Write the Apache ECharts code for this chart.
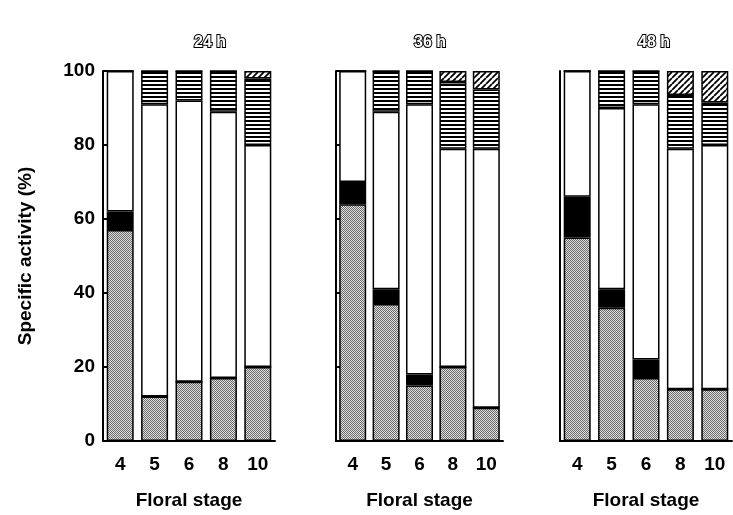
<!DOCTYPE html>
<html><head><meta charset="utf-8">
<script src="https://cdn.jsdelivr.net/npm/echarts@6/dist/echarts.min.js"></script>
<style>html,body{margin:0;padding:0;background:#fff}#c{width:733px;height:515px}</style>
</head><body><div id="c"></div>
<script>
const categories = ['4','5','6','8','10'];
const panelTitles = ['24 h','36 h','48 h'];
const yTicks = [0,20,40,60,80,100];
// segment heights (%), bottom to top
const gray24  = [57, 12, 16, 17, 20];
const black24 = [5, 0, 0, 0, 0];
const white24 = [38, 79, 76, 72, 60];
const hstr24  = [0, 9, 8, 11, 18];
const diag24  = [0, 0, 0, 0, 2];

const gray36  = [64, 37, 15, 20, 9];
const black36 = [6, 4, 3, 0, 0];
const white36 = [30, 48, 73, 59, 70];
const hstr36  = [0, 11, 9, 18, 16];
const diag36  = [0, 0, 0, 3, 5];

const gray48  = [55, 36, 17, 14, 14];
const black48 = [11, 5, 5, 0, 0];
const white48 = [34, 49, 69, 65, 66];
const hstr48  = [0, 10, 9, 14.5, 11.5];
const diag48  = [0, 0, 0, 6.5, 8.5];

function makePattern(kind){
  const c = document.createElement('canvas');
  const g = c.getContext('2d');
  if(kind==='gray'){
    c.width=2;c.height=2;
    g.fillStyle='#e0e0e0';g.fillRect(0,0,2,2);
    g.fillStyle='#6a6a6a';g.fillRect(0,0,1,1);g.fillRect(1,1,1,1);
  } else if(kind==='hstr'){
    c.width=4;c.height=4;
    g.fillStyle='#fff';g.fillRect(0,0,4,4);
    g.fillStyle='#000';g.fillRect(0,0,4,2);
  } else if(kind==='diag'){
    c.width=6;c.height=6;
    g.fillStyle='#fff';g.fillRect(0,0,6,6);
    g.strokeStyle='#000';g.lineWidth=1.8;
    g.beginPath();
    for(let k=-6;k<=12;k+=6){g.moveTo(k,6);g.lineTo(k+6,0);}
    g.stroke();
  }
  return {image:c, repeat:'repeat'};
}
const fills = [makePattern('gray'), '#000', '#fff', makePattern('hstr'), makePattern('diag')];
const panels = [
  [gray24, black24, white24, hstr24, diag24],
  [gray36, black36, white36, hstr36, diag36],
  [gray48, black48, white48, hstr48, diag48]
];
const grids = [
  {left:103, top:71, width:172, height:370},
  {left:336, top:71, width:167, height:370},
  {left:560, top:71, width:172, height:370}
];
const titleX = [205, 425, 649];
const font = 'Liberation Sans, Arial, sans-serif';

const xAxis = [], yAxis = [], series = [], title = [];
grids.forEach((gr, i) => {
  xAxis.push({
    type:'category', gridIndex:i, data:categories,
    axisLine:{lineStyle:{color:'#000', width:2}},
    axisTick:{show:false},
    axisLabel:{color:'#000', fontSize:19, fontWeight:'bold', fontFamily:font, margin:14},
    name:'Floral stage', nameLocation:'middle', nameGap:50,
    nameTextStyle:{color:'#000', fontSize:19, fontWeight:'bold', fontFamily:font}
  });
  yAxis.push({
    type:'value', gridIndex:i, min:yTicks[0], max:yTicks[yTicks.length-1], interval:20,
    axisLine:{show:true, lineStyle:{color:'#000', width:2}},
    axisTick:{show:i<2, inside:true, length:5, lineStyle:{color:'#000', width:2}},
    splitLine:{show:false},
    axisLabel:{show:i===0, color:'#000', fontSize:19, fontWeight:'bold', fontFamily:font, margin:8},
    name: i===0 ? 'Specific activity (%)' : '', nameLocation:'middle', nameGap:68, nameRotate:90,
    nameTextStyle:{color:'#000', fontSize:19, fontWeight:'bold', fontFamily:font}
  });
  title.push({
    text: panelTitles[i], left: titleX[i], top: 30, textAlign:'center',
    textStyle:{color:'#fff', fontSize:16, fontWeight:'bold', fontFamily:font, textBorderColor:'#000', textBorderWidth:2}
  });
  panels[i].forEach((arr, j) => {
    series.push({
      type:'bar', xAxisIndex:i, yAxisIndex:i, stack:'p'+i, data:arr,
      barWidth:27,
      itemStyle:{color:fills[j], borderColor:'#000', borderWidth:1.5},
      silent:true
    });
  });
});

const chart = echarts.init(document.getElementById('c'), null, {renderer:'canvas'});
chart.setOption({
  animation:false, backgroundColor:'#fff',
  title, grid:grids, xAxis, yAxis, series
});
</script></body></html>
